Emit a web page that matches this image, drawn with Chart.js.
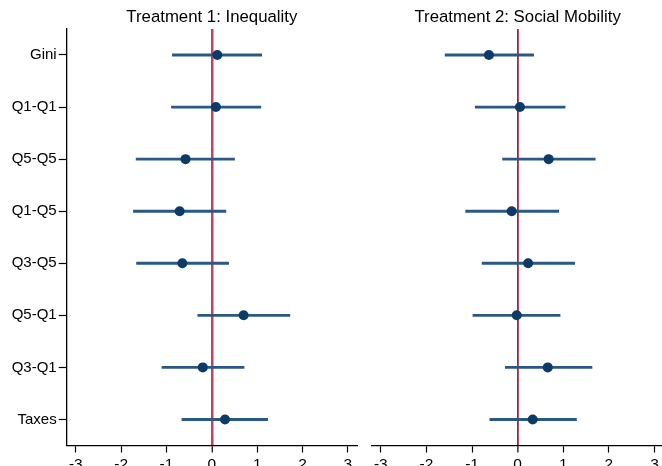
<!DOCTYPE html>
<html>
<head>
<meta charset="utf-8">
<script src="https://cdn.jsdelivr.net/npm/chart.js@4/dist/chart.umd.min.js"></script>
<style>
  html, body { margin: 0; padding: 0; background: #fff; overflow: hidden; width: 662px; height: 466px; }
  canvas { position: absolute; top: 0; }
  #left { left: 0; }
  #right { left: 362px; }
</style>
</head>
<body>
<canvas id="left" width="362" height="490"></canvas>
<canvas id="right" width="310" height="490"></canvas>
<script>
// Outcome rows, top to bottom
const categories = ['Gini', 'Q1-Q1', 'Q5-Q5', 'Q1-Q5', 'Q3-Q5', 'Q5-Q1', 'Q3-Q1', 'Taxes'];

// Treatment 1: point estimates and confidence bounds
const t1Est = [0.12, 0.09, -0.58, -0.71, -0.65, 0.70, -0.20, 0.29];
const t1Lo  = [-0.87, -0.89, -1.67, -1.73, -1.66, -0.31, -1.10, -0.66];
const t1Hi  = [1.10, 1.08, 0.50, 0.31, 0.37, 1.72, 0.71, 1.23];

// Treatment 2: point estimates and confidence bounds
const t2Est = [-0.63, 0.05, 0.68, -0.13, 0.23, -0.02, 0.66, 0.33];
const t2Lo  = [-1.59, -0.93, -0.33, -1.14, -0.78, -0.98, -0.27, -0.61];
const t2Hi  = [0.35, 1.04, 1.70, 0.90, 1.25, 0.93, 1.63, 1.29];

// Horizontal axis ticks
const xTicks = [-3, -2, -1, 0, 1, 2, 3];

const FONT = '"Liberation Sans", Arial, Helvetica, sans-serif';
const MARKER = '#0d3b67';
const CI_LINE = '#2a5886';

function makeChart(canvasId, title, est, lo, hi, opts) {
  return new Chart(document.getElementById(canvasId), {
    data: {
      labels: categories,
      datasets: [
        {
          type: 'line',
          data: est,
          showLine: false,
          pointRadius: 5,
          pointHoverRadius: 5,
          pointBackgroundColor: MARKER,
          pointBorderColor: MARKER,
          pointBorderWidth: 0,
          order: 0
        },
        {
          type: 'bar',
          data: categories.map((_, i) => [lo[i], hi[i]]),
          backgroundColor: CI_LINE,
          borderWidth: 0,
          borderSkipped: false,
          barThickness: 2.2,
          order: 1
        }
      ]
    },
    options: {
      indexAxis: 'y',
      responsive: false,
      animation: false,
      devicePixelRatio: 1,
      layout: { padding: { left: opts.padLeft, right: opts.padRight, top: 0, bottom: 4.5 } },
      plugins: {
        legend: { display: false },
        tooltip: { enabled: false },
        title: {
          display: true,
          text: title,
          fullSize: false,
          color: '#000',
          font: { family: FONT, size: 16.8, weight: 'normal' },
          padding: { top: 7.4, bottom: 1.4 }
        }
      },
      scales: {
        x: {
          type: 'linear',
          min: -3.2,
          max: 3.2,
          afterBuildTicks: (scale) => { scale.ticks = xTicks.map(v => ({ value: v })); },
          afterFit: (scale) => { scale.height = 40; },
          ticks: {
            color: '#000',
            font: { family: FONT, size: 15.5 },
            padding: 3,
            maxRotation: 0,
            autoSkip: false,
            callback: (v) => String(v)
          },
          grid: {
            drawOnChartArea: true,
            color: (ctx) => (ctx.tick && ctx.tick.value === 0) ? opts.zeroColor : 'rgba(0,0,0,0)',
            lineWidth: (ctx) => (ctx.tick && ctx.tick.value === 0) ? opts.zeroWidth : 1,
            tickColor: '#000',
            tickLength: 7,
            tickWidth: 1.2
          },
          border: { display: true, color: '#000', width: 1.3 }
        },
        y: {
          type: 'category',
          offset: true,
          display: opts.showY,
          afterFit: (scale) => { if (opts.showY) scale.width = 66.7; },
          ticks: {
            color: '#000',
            font: { family: FONT, size: 15 },
            padding: 2
          },
          grid: {
            offset: false,
            drawOnChartArea: false,
            drawTicks: true,
            tickLength: 8,
            tickColor: '#000',
            tickWidth: 1.2
          },
          border: { display: true, color: '#000', width: 1.3 }
        }
      }
    }
  });
}

makeChart('left', 'Treatment 1: Inequality', t1Est, t1Lo, t1Hi,
  { padLeft: 0, padRight: 3, showY: true, zeroColor: '#c93f5e', zeroWidth: 2.5 });
makeChart('right', 'Treatment 2: Social Mobility', t2Est, t2Lo, t2Hi,
  { padLeft: 9.7, padRight: 8.4, showY: false, zeroColor: '#b8183f', zeroWidth: 1.8 });
</script>
</body>
</html>
